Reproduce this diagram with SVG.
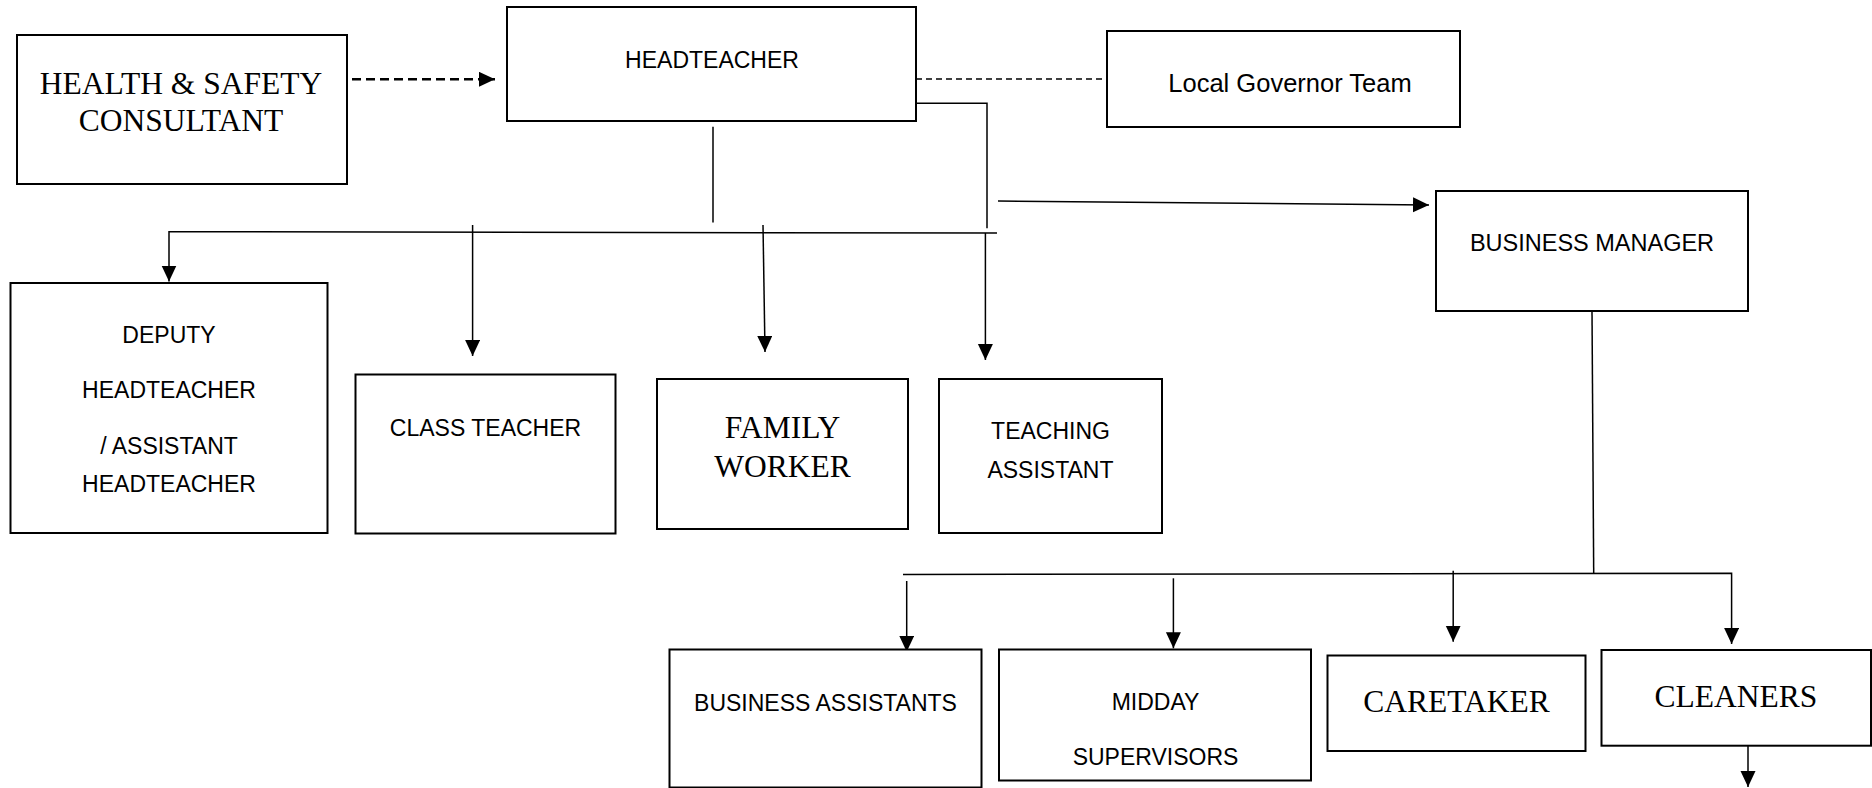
<svg xmlns="http://www.w3.org/2000/svg" width="1872" height="788" viewBox="0 0 1872 788">
<style>
.box{fill:#fff;stroke:#000;stroke-width:2}
.sans{font-family:"Liberation Sans",Arial,sans-serif;font-size:23px;fill:#000;text-anchor:middle}
.serif{font-family:"Liberation Serif","Times New Roman",serif;font-size:31.5px;fill:#000;text-anchor:middle}
.ln{fill:none;stroke:#000;stroke-width:1.5}
.dash1{fill:none;stroke:#000;stroke-width:2.5;stroke-dasharray:9 5}
.dash2{fill:none;stroke:#000;stroke-width:1.5;stroke-dasharray:6 4}
</style>
<defs>
<marker id="ah" markerUnits="userSpaceOnUse" markerWidth="17" markerHeight="16" refX="16" refY="7.5" orient="auto">
<path d="M0,0 L16,7.5 L0,15 Z" fill="#000" stroke="none"/>
</marker>
</defs>
<rect width="1872" height="788" fill="#fff"/>
<g id="connectors">
<line class="dash1" x1="352" y1="79.3" x2="495" y2="79.3" marker-end="url(#ah)"/>
<line class="dash2" x1="916" y1="79" x2="1107" y2="79"/>
<polyline class="ln" points="916,103.3 987,103.3 987,228.3"/>
<line class="ln" x1="713" y1="126.7" x2="713" y2="222.5"/>
<polyline class="ln" points="997,233 171,231.7 169,231.7 169,281.5" marker-end="url(#ah)"/>
<line class="ln" x1="472.6" y1="225" x2="472.6" y2="356" marker-end="url(#ah)"/>
<line class="ln" x1="763" y1="225" x2="765" y2="352" marker-end="url(#ah)"/>
<line class="ln" x1="985.4" y1="233" x2="985.4" y2="360" marker-end="url(#ah)"/>
<line class="ln" x1="998" y1="201" x2="1429" y2="205" marker-end="url(#ah)"/>
<line class="ln" x1="1592" y1="311" x2="1593.7" y2="573.3"/>
<polyline class="ln" points="903,574.5 1731.6,573.3 1731.6,644" marker-end="url(#ah)"/>
<line class="ln" x1="906.7" y1="581" x2="906.7" y2="651.7" marker-end="url(#ah)"/>
<line class="ln" x1="1173.4" y1="578.3" x2="1173.4" y2="648.3" marker-end="url(#ah)"/>
<line class="ln" x1="1453.2" y1="570.7" x2="1453.2" y2="641.7" marker-end="url(#ah)"/>
<line class="ln" x1="1748" y1="745.7" x2="1748" y2="787" marker-end="url(#ah)"/>
</g>
<g id="hs">
<rect class="box" x="17" y="35" width="330" height="149"/>
<text class="serif" x="181" y="94.3">HEALTH &amp; SAFETY</text>
<text class="serif" x="181" y="131">CONSULTANT</text>
</g>
<g id="headteacher">
<rect class="box" x="507" y="7" width="409" height="114"/>
<text class="sans" x="712" y="68.3">HEADTEACHER</text>
</g>
<g id="governors">
<rect class="box" x="1107" y="31" width="353" height="96"/>
<text class="sans" x="1290" y="91.7" style="font-size:25.5px">Local Governor Team</text>
</g>
<g id="business-manager">
<rect class="box" x="1436" y="191" width="312" height="120"/>
<text class="sans" x="1592" y="251" style="font-size:23.5px">BUSINESS MANAGER</text>
</g>
<g id="deputy">
<rect class="box" x="10.5" y="283" width="317" height="250"/>
<text class="sans" x="169" y="343.3">DEPUTY</text>
<text class="sans" x="169" y="398.3">HEADTEACHER</text>
<text class="sans" x="169" y="454">/ ASSISTANT</text>
<text class="sans" x="169" y="491.7">HEADTEACHER</text>
</g>
<g id="class-teacher">
<rect class="box" x="355.5" y="374.5" width="260" height="159"/>
<text class="sans" x="485.5" y="436">CLASS TEACHER</text>
</g>
<g id="family-worker">
<rect class="box" x="657" y="379" width="251" height="150"/>
<text class="serif" x="782.5" y="438.3">FAMILY</text>
<text class="serif" x="782.5" y="476.7">WORKER</text>
</g>
<g id="teaching-assistant">
<rect class="box" x="939" y="379" width="223" height="154"/>
<text class="sans" x="1050.5" y="439.3">TEACHING</text>
<text class="sans" x="1050.5" y="478.3">ASSISTANT</text>
</g>
<g id="business-assistants">
<rect class="box" x="669.5" y="649.5" width="312" height="138"/>
<text class="sans" x="825.5" y="710.7">BUSINESS ASSISTANTS</text>
</g>
<g id="midday-supervisors">
<rect class="box" x="999" y="649.5" width="312" height="131"/>
<text class="sans" x="1155.5" y="710">MIDDAY</text>
<text class="sans" x="1155.5" y="765">SUPERVISORS</text>
</g>
<g id="caretaker">
<rect class="box" x="1327.5" y="655.5" width="258" height="95.5"/>
<text class="serif" x="1456.5" y="712.3">CARETAKER</text>
</g>
<g id="cleaners">
<rect class="box" x="1601.5" y="650" width="269.5" height="95.7"/>
<text class="serif" x="1736" y="706.7">CLEANERS</text>
</g>
</svg>
